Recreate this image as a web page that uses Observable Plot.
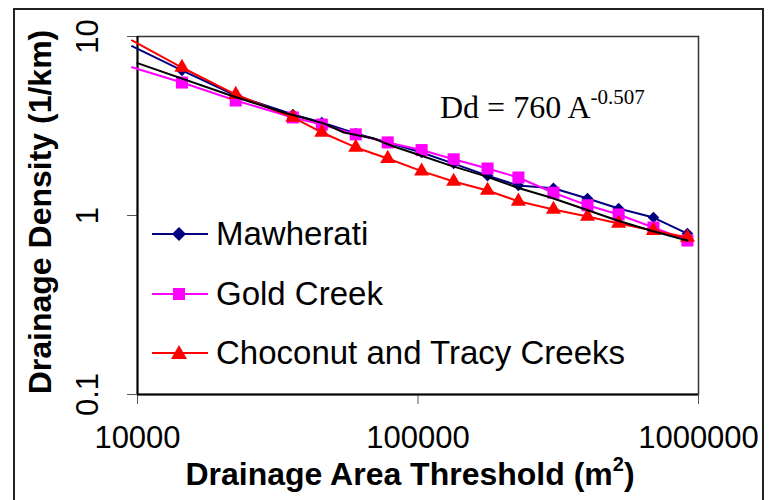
<!DOCTYPE html>
<html>
<head>
<meta charset="utf-8">
<script src="https://cdn.jsdelivr.net/npm/d3@7"></script>
<script src="https://cdn.jsdelivr.net/npm/@observablehq/plot@0.6"></script>
<style>
  body { margin: 0; background: #fff; }
  #wrap { position: relative; width: 772px; height: 500px; overflow: hidden; font-family: "Liberation Sans", Arial, sans-serif; }
  #border { position: absolute; left: 13px; top: 8px; width: 751px; height: 520px; border: 2px solid #222; box-sizing: border-box; }
  #chart { position: absolute; left: 0; top: 0; }
  .row { position: absolute; left: 152px; height: 40px; display: flex; align-items: center; font-size: 33px; color: #000; white-space: nowrap; }
  .row svg { margin-right: 7px; }
</style>
</head>
<body>
<div id="wrap">
  <div id="border"></div>
  <div id="chart"></div>
</div>
<script>
// ---- data ----
const xTicks = [10000, 100000, 1000000];
const yTicks = [0.1, 1, 10];
const seriesNames = ["Mawherati", "Gold Creek", "Choconut and Tracy Creeks"];
const seriesColors = ["#000080", "#FF00FF", "#FF0000"];
const seriesSymbols = ["diamond2", "square", "triangle"];

// drainage area thresholds (m^2); first value is the line start (no marker)
const area = [9560, 14400, 22400, 35800, 45400, 60000, 78000, 103000, 134000, 177000, 228000, 304000, 402000, 519000, 691000, 913000];
const mawherati = [8.83, 6.46, 4.68, 3.67, 3.31, 2.87, 2.56, 2.25, 1.95, 1.67, 1.47, 1.42, 1.245, 1.094, 0.974, 0.793];
const goldCreek = [6.74, 5.53, 4.39, 3.53, 3.22, 2.84, 2.56, 2.32, 2.06, 1.83, 1.63, 1.34, 1.14, 1.013, 0.857, 0.725];
const choconut = [9.5, 6.71, 4.74, 3.53, 2.91, 2.40, 2.08, 1.77, 1.55, 1.38, 1.20, 1.08, 0.987, 0.902, 0.824, 0.754];

// black curve (combined / fitted curve)
const fitArea = [10000, 21500, 33200, 46100, 54400, 69600, 81900, 99800, 130800, 171400, 226500, 297000, 389000, 514000, 674000, 913000];
const fitDensity = [7.10, 4.68, 3.76, 3.27, 2.91, 2.69, 2.43, 2.19, 1.90, 1.67, 1.43, 1.26, 1.09, 0.938, 0.824, 0.725];

// ---- build tables ----
const seriesValues = [mawherati, goldCreek, choconut];
const rows = [];
seriesValues.forEach((vals, s) => vals.forEach((v, i) => rows.push({series: seriesNames[s], A: area[i], D: v, marker: i > 0})));
const fitRows = fitArea.map((a, i) => ({A: a, D: fitDensity[i]}));

const marks = [];
seriesNames.forEach((name, s) => {
  const data = rows.filter(d => d.series === name);
  marks.push(Plot.line(data, {x: "A", y: "D", stroke: seriesColors[s], strokeWidth: 2}));
  marks.push(Plot.dot(data.filter(d => d.marker), {x: "A", y: "D", symbol: () => seriesSymbols[s], fill: seriesColors[s], stroke: "none",
    r: s === 0 ? 5.2 : s === 1 ? 6.8 : 5.6}));
});
marks.push(Plot.line(fitRows, {x: "A", y: "D", stroke: "#000", strokeWidth: 2}));

const svg = Plot.plot({
  width: 772,
  height: 500,
  marginLeft: 137,
  marginRight: 74,
  marginTop: 36,
  marginBottom: 106,
  style: {fontFamily: "Liberation Sans, Arial, sans-serif", background: "transparent", color: "#000", overflow: "visible"},
  x: {type: "log", domain: [10000, 1000000]},
  y: {type: "log", domain: [0.1, 10]},
  marks: [
    Plot.frame({stroke: "#333", strokeWidth: 1.5}),
    Plot.axisX({ticks: xTicks, tickFormat: d => String(d), tickSize: 10, tickPadding: 21, fontSize: 31, label: null, stroke: "#555"}),
    Plot.axisY({ticks: yTicks, tickFormat: () => "", tickSize: 10, label: null, stroke: "#555"}),
    Plot.text(yTicks, {y: d => d, text: d => String(d), frameAnchor: "left", dx: -40, rotate: -90, textAnchor: "middle", lineAnchor: "bottom", fontSize: 31}),
    Plot.ruleX([10000], {stroke: "#000", strokeWidth: 2}),
    Plot.ruleY([0.1], {stroke: "#000", strokeWidth: 2}),
    ...marks
  ]
});
document.getElementById("chart").append(svg);

const sel = d3.select(svg);
// y axis title
sel.append("text")
  .attr("transform", "translate(51,212) rotate(-90)")
  .attr("text-anchor", "middle")
  .attr("font-weight", "bold")
  .attr("font-size", 32)
  .attr("fill", "#000")
  .text("Drainage Density (1/km)");
// x axis title
const xt = sel.append("text")
  .attr("x", 410).attr("y", 485)
  .attr("text-anchor", "middle")
  .attr("font-weight", "bold")
  .attr("font-size", 32)
  .attr("fill", "#000");
xt.append("tspan").text("Drainage Area Threshold (m");
xt.append("tspan").attr("font-size", 20).attr("dy", -14).text("2");
xt.append("tspan").attr("dy", 14).text(")");
// equation
const eq = sel.append("text")
  .attr("x", 440).attr("y", 118)
  .attr("text-anchor", "start")
  .attr("font-family", "Liberation Serif, Times New Roman, serif")
  .attr("font-size", 32)
  .attr("fill", "#000");
eq.append("tspan").text("Dd = 760 A");
eq.append("tspan").attr("font-size", 21).attr("dy", -14).text("-0.507");

// legend
const legendY = [234, 294, 353];
const wrap = document.getElementById("wrap");
seriesNames.forEach((name, s) => {
  const row = document.createElement("div");
  row.className = "row";
  row.style.top = (legendY[s] - 20) + "px";
  let marker;
  if (s === 0) marker = `<polygon points="27,3 34,10 27,17 20,10" fill="${seriesColors[s]}"/>`;
  else if (s === 1) marker = `<rect x="21" y="4" width="12" height="12" fill="${seriesColors[s]}"/>`;
  else marker = `<polygon points="27,2 35,16 19,16" fill="${seriesColors[s]}"/>`;
  row.innerHTML = `<svg width="57" height="20"><line x1="0" x2="56" y1="10" y2="10" stroke="${seriesColors[s]}" stroke-width="2"/>${marker}</svg><span>${name}</span>`;
  wrap.append(row);
});
</script>
</body>
</html>
